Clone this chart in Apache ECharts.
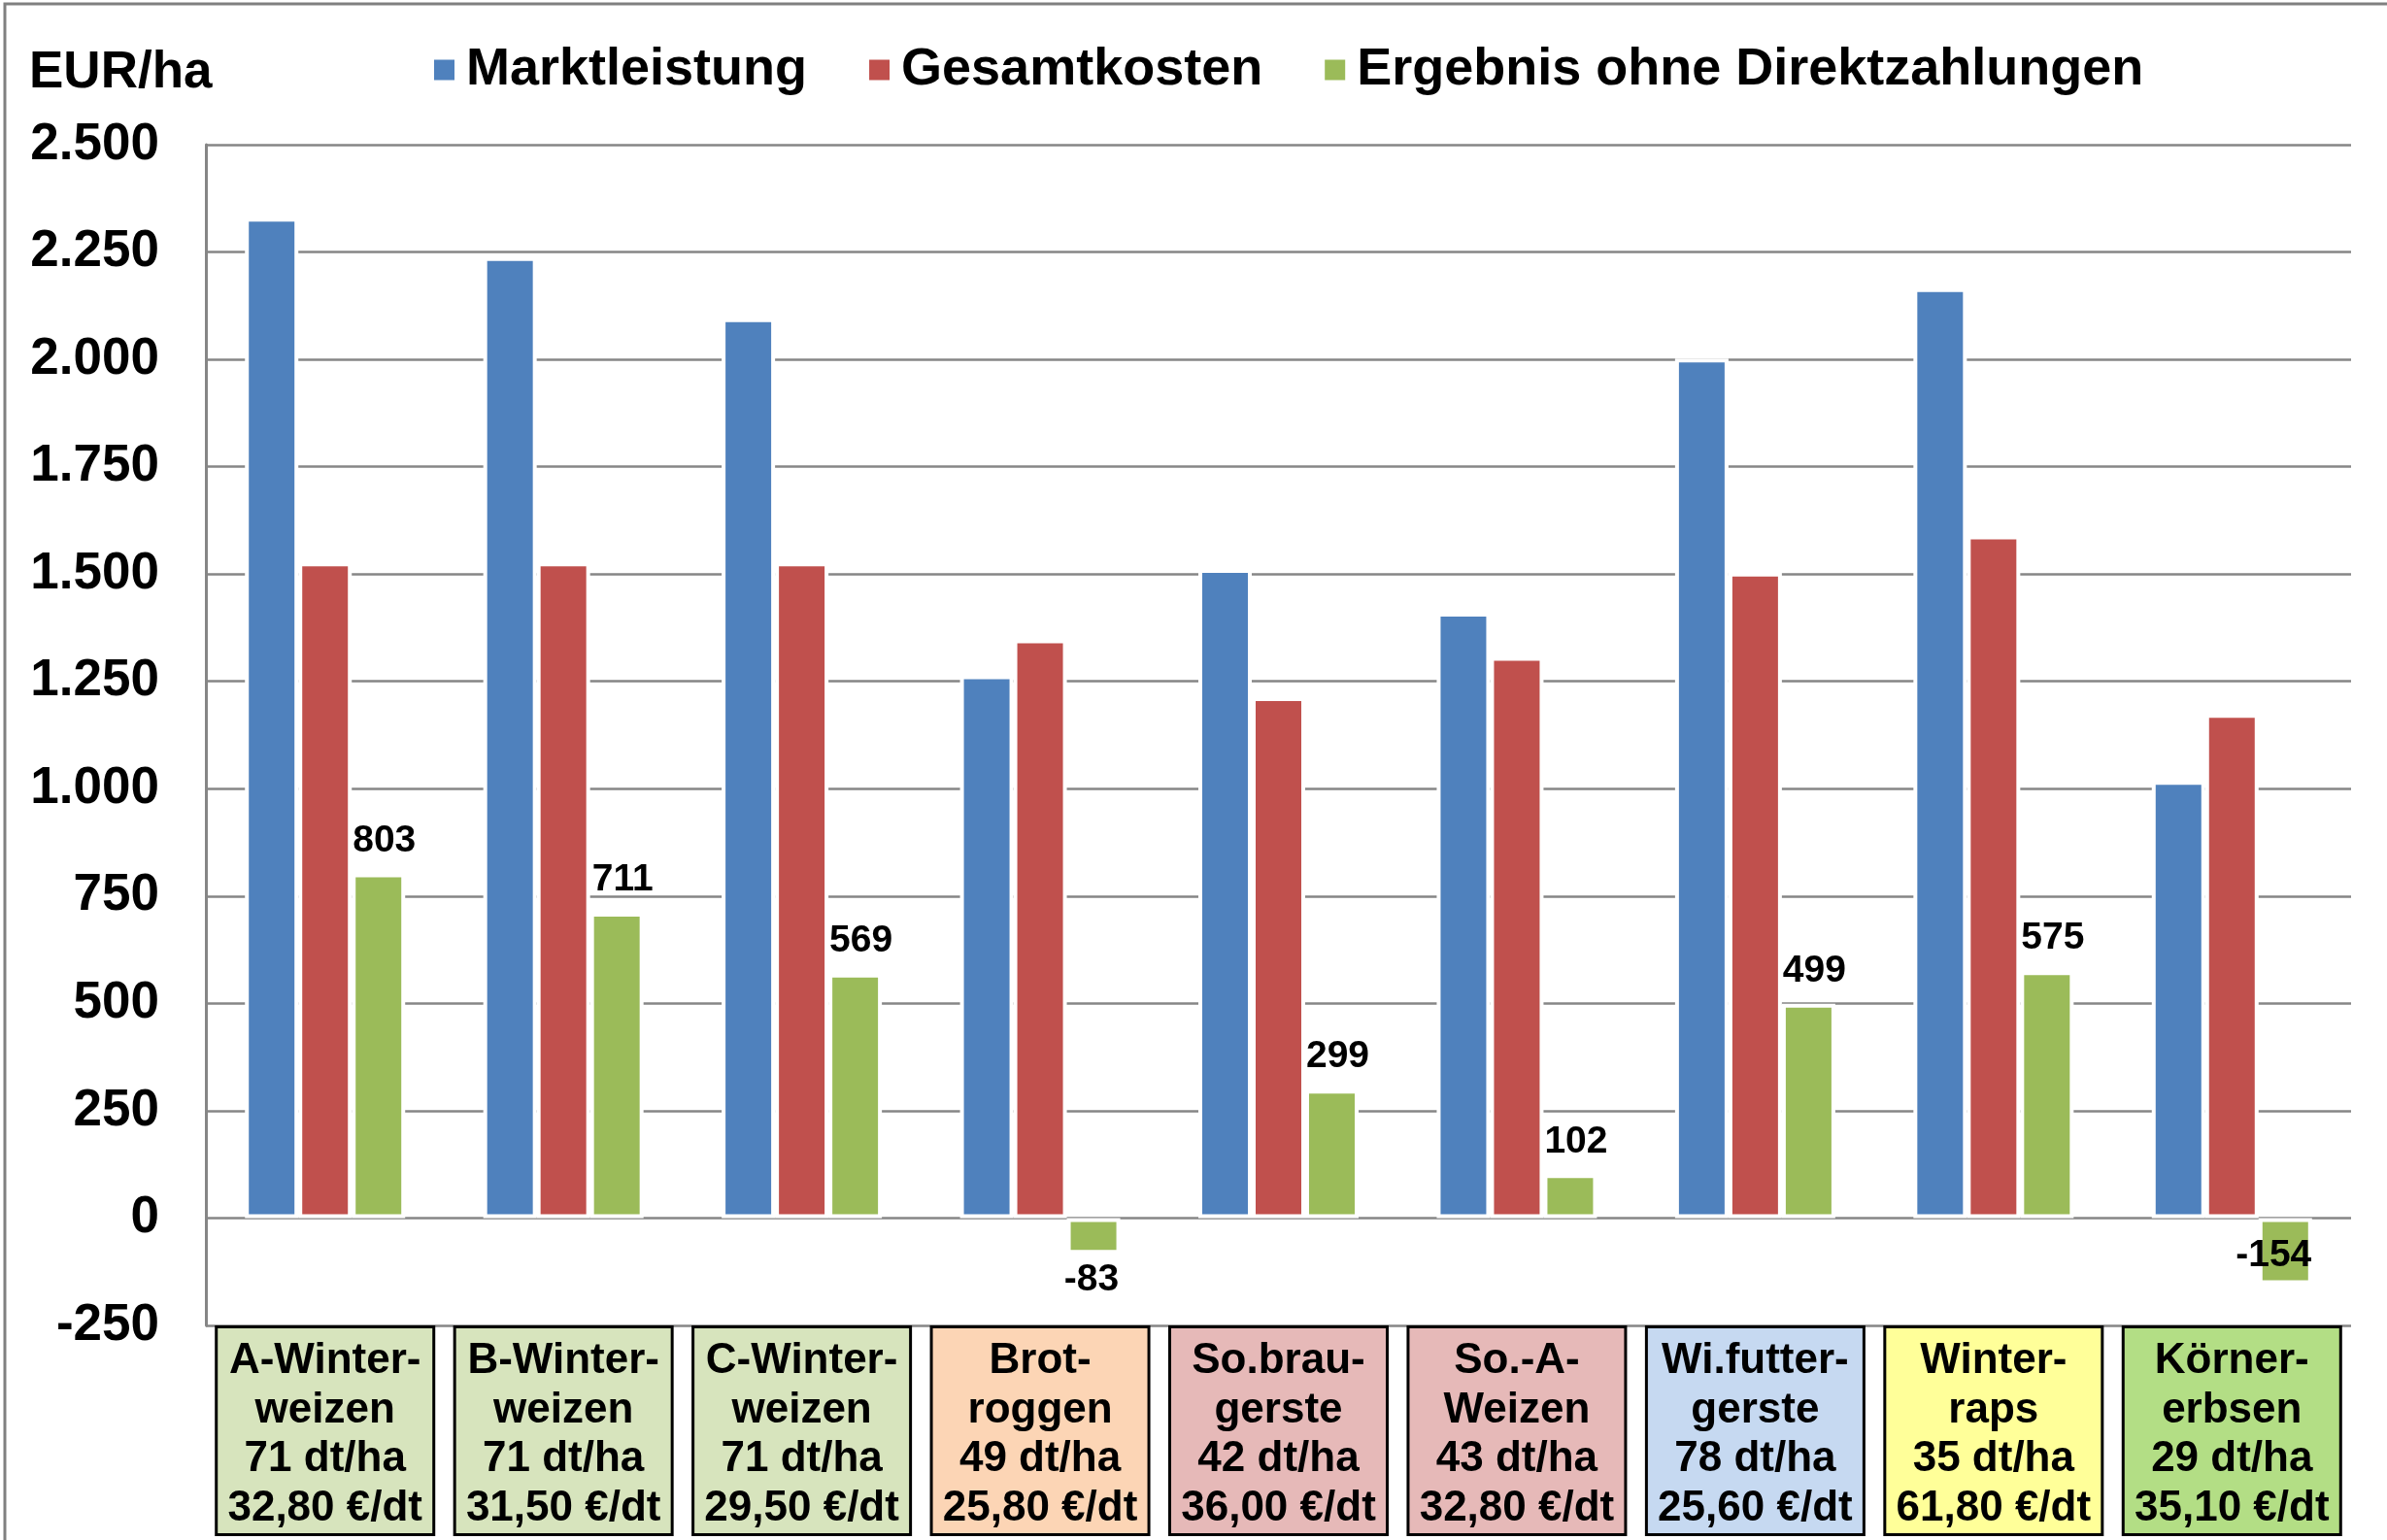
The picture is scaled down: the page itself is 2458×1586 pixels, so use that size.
<!DOCTYPE html>
<html>
<head>
<meta charset="utf-8">
<script src="https://cdn.jsdelivr.net/npm/echarts@6/dist/echarts.min.js"></script>
<style>
    html, body { margin: 0; padding: 0; background: #fff; }
    #chart { width: 2458px; height: 1586px; }
</style>
</head>
<body>
<div id="chart"></div>
<script>
// crop names, yields and prices shown in the boxes under the axis
const categories = [
    "A-Winter-\nweizen",
    "B-Winter-\nweizen",
    "C-Winter-\nweizen",
    "Brot-\nroggen",
    "So.brau-\ngerste",
    "So.-A-\nWeizen",
    "Wi.futter-\ngerste",
    "Winter-\nraps",
    "Körner-\nerbsen",
];
const yields = ["71 dt/ha", "71 dt/ha", "71 dt/ha", "49 dt/ha", "42 dt/ha", "43 dt/ha", "78 dt/ha", "35 dt/ha", "29 dt/ha"];
const prices = ["32,80 €/dt", "31,50 €/dt", "29,50 €/dt", "25,80 €/dt", "36,00 €/dt", "32,80 €/dt", "25,60 €/dt", "61,80 €/dt", "35,10 €/dt"];

const marktleistung = [2330, 2238, 2096, 1264, 1512, 1410, 2002, 2166, 1018];
const gesamtkosten = [1527, 1527, 1527, 1348, 1213, 1307, 1503, 1590, 1174];
const ergebnis = [803, 711, 569, -83, 299, 102, 499, 575, -154];

const yTicks = [-250, 0, 250, 500, 750, 1000, 1250, 1500, 1750, 2000, 2250, 2500];

// box fill per crop group
const boxColors = ["#D7E4BD", "#D7E4BD", "#D7E4BD", "#FCD5B5", "#E6B9B8", "#E6B9B8", "#C6D9F1", "#FFFF99", "#B3DE85"];

const FONT = "'Liberation Sans', Arial, sans-serif";

const chart = echarts.init(document.getElementById("chart"));

const fmt = (v) => String(v).replace(/\B(?=(\d{3})+(?!\d))/g, ".");

const xData = categories.map((c, i) => ({
    value: c + "\n" + yields[i] + "\n" + prices[i],
    textStyle: { backgroundColor: boxColors[i] },
}));

const greenData = ergebnis.map((v) => {
    if (v >= 0) return v;
    // Excel pushes the label inside when there is no room below
    if (v < -100) {
        return { value: v, label: { position: "inside", offset: [-12, 5] } };
    }
    return { value: v, label: { position: "bottom", distance: 8, offset: [-2, 0] } };
});

const barBase = {
    type: "bar",
    barWidth: 55,
    barGap: "0%",
    itemStyle: { borderColor: "#fff", borderWidth: 4 },
};

const option = {
    backgroundColor: "#fff",
    animation: false,
    textStyle: { fontFamily: FONT },
    title: {
        text: "EUR/ha",
        left: 30,
        top: 49,
        padding: 0,
        textStyle: { fontFamily: FONT, fontSize: 53, fontWeight: "bold", color: "#000" },
    },
    legend: {
        left: 440,
        top: 40,
        itemWidth: 23,
        itemHeight: 23,
        itemGap: 62,
        icon: "rect",
        textStyle: {
            fontFamily: FONT,
            fontSize: 54,
            fontWeight: "bold",
            color: "#000",
            padding: [0, 0, 0, 6],
        },
    },
    graphic: [
        {
            type: "rect",
            shape: { x: 5, y: 4, width: 2700, height: 1800 },
            style: { fill: "none", stroke: "#808080", lineWidth: 3 },
            silent: true,
        },
    ],
    grid: { left: 212, right: 37, top: 149, bottom: 221, containLabel: false },
    xAxis: {
        type: "category",
        data: xData,
        axisLine: { show: false, onZero: false },
        axisTick: { show: false },
        axisLabel: {
            interval: 0,
            margin: 3,
            fontFamily: FONT,
            fontSize: 44,
            fontWeight: "bold",
            lineHeight: 50.5,
            color: "#000",
            width: 221,
            align: "center",
            overflow: "none",
            padding: [9, 0, 0, 0],
            borderColor: "#000",
            borderWidth: 3,
        },
    },
    yAxis: {
        type: "value",
        min: yTicks[0],
        max: yTicks[yTicks.length - 1],
        interval: 250,
        axisLine: { show: true, lineStyle: { color: "#868686", width: 3 } },
        axisTick: { show: false },
        splitLine: { lineStyle: { color: "#868686", width: 2.5 } },
        axisLabel: {
            margin: 48,
            fontFamily: FONT,
            fontSize: 53,
            fontWeight: "bold",
            color: "#000",
            formatter: fmt,
        },
    },
    series: [
        Object.assign({}, barBase, {
            name: "Marktleistung",
            data: marktleistung,
            itemStyle: Object.assign({}, barBase.itemStyle, { color: "#4F81BD" }),
        }),
        Object.assign({}, barBase, {
            name: "Gesamtkosten",
            data: gesamtkosten,
            itemStyle: Object.assign({}, barBase.itemStyle, { color: "#C0504D" }),
        }),
        Object.assign({}, barBase, {
            name: "Ergebnis ohne Direktzahlungen",
            data: greenData,
            itemStyle: Object.assign({}, barBase.itemStyle, { color: "#9BBB59" }),
            label: {
                show: true,
                position: "top",
                distance: 14,
                offset: [6, 0],
                fontFamily: FONT,
                fontSize: 39,
                fontWeight: "bold",
                color: "#000",
            },
        }),
    ],
};

chart.setOption(option);
window.addEventListener("resize", () => chart.resize());
</script>
</body>
</html>
